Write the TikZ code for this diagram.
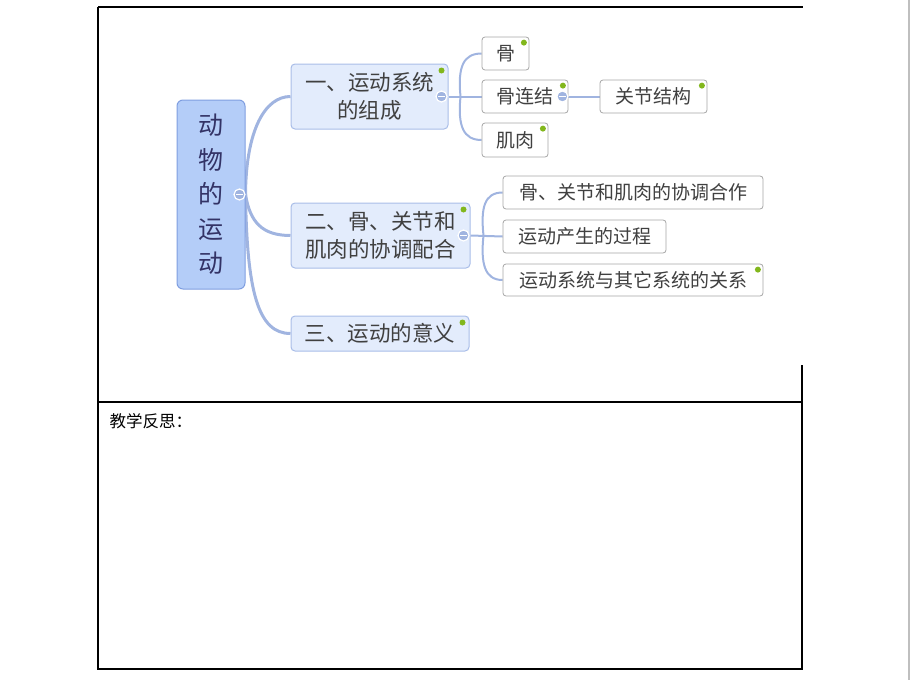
\documentclass[tikz,border=0pt]{standalone}
\usepackage{fontspec}
\setmainfont{Noto Sans CJK SC}
\usetikzlibrary{backgrounds}

\definecolor{rootfill}{HTML}{B4CDF8}
\definecolor{rootline}{HTML}{7F9EE0}
\definecolor{topicfill}{HTML}{E3ECFC}
\definecolor{topicline}{HTML}{A9BDE8}
\definecolor{branch}{HTML}{A0B4E0}
\definecolor{leafgreen}{HTML}{82B71C}
\definecolor{inktext}{HTML}{404040}

\tikzset{
  rootbox/.style={draw=rootline, fill=rootfill, rounded corners=6pt, line width=1pt,
    minimum width=68pt, minimum height=189pt, inner sep=0pt, align=center,
    text=inktext!80!blue, font=\fontsize{25}{34.5}\selectfont},
  topicbox/.style={draw=topicline, fill=topicfill, rounded corners=4pt, line width=1pt,
    inner sep=0pt, align=center, text=inktext, font=\fontsize{21.5}{28}\selectfont},
  leafbox/.style={draw=black!35, fill=white, rounded corners=3pt, line width=0.8pt,
    minimum height=33pt, inner sep=0pt, align=center, text=inktext,
    font=\fontsize{19}{24}\selectfont},
  mainbranch/.style={draw=branch, line width=3pt},
  subbranch/.style={draw=branch, line width=2pt},
  greendot/.style={circle, fill=leafgreen, inner sep=0pt, minimum size=6pt},
  fold/.style={circle, fill=branch, draw=white, line width=1.2pt, inner sep=0pt,
    minimum size=11pt,
    path picture={\draw[white, line width=1.6pt]
      ([xshift=-3.5pt]path picture bounding box.center) --
      ([xshift=3.5pt]path picture bounding box.center);}}
}

\begin{document}
\begin{tikzpicture}[x=1pt,y=-1pt]
\useasboundingbox (0,0) rectangle (910,680);

% Page frame
\draw[line width=1.3pt] (98,7) -- (803,7);
\draw[line width=1.3pt] (98,7) -- (98,669) -- (803,669);
\draw[line width=1.3pt] (98,402) -- (803,402);
\draw[line width=1.3pt] (802,365) -- (802,669);
\draw[black!25, line width=1.5pt] (909,0) -- (909,680);

\node[anchor=west, font=\fontsize{16.5}{20}\selectfont] (fansi) at (106,421) {教学反思：};

% Central topic and main topics
\node[rootbox] (root) at (211,194.5) {动\\物\\的\\运\\动};
\node[topicbox, minimum width=157pt, minimum height=65pt] (t1) at (369.5,96.5) {一、运动系统\\的组成};
\node[topicbox, minimum width=179pt, minimum height=65pt] (t2) at (380.5,235.5) {二、骨、关节和\\肌肉的协调配合};
\node[topicbox, minimum width=178pt, minimum height=35pt] (t3) at (380,333.5) {三、运动的意义};

% Subtopics
\node[leafbox, minimum width=47pt] (gu) at (505.5,53.5) {骨};
\node[leafbox, minimum width=86pt] (gulian) at (525,96.5) {骨连结};
\node[leafbox, minimum width=66pt, minimum height=34pt] (jirou) at (515,140) {肌肉};
\node[leafbox, minimum width=107pt] (guanjie) at (653.5,96.5) {关节结构};
\node[leafbox, minimum width=260pt] (c1) at (633,192.5) {骨、关节和肌肉的协调合作};
\node[leafbox, minimum width=163pt] (c2) at (584.5,236.5) {运动产生的过程};
\node[leafbox, minimum width=260pt, minimum height=32pt] (c3) at (633,280) {运动系统与其它系统的关系};

% Branches
\begin{scope}[on background layer]
\draw[mainbranch] (root.east) .. controls (246,130) and (265,96.5) .. (t1.west);
\draw[mainbranch] (root.east) .. controls (250,222) and (262,235.5) .. (t2.west);
\draw[mainbranch] (root.east) .. controls (247,292) and (258,333.5) .. (t3.west);

\draw[subbranch] (t1.east) -- (gulian.west);
\draw[subbranch] (t1.east) ++(12,0) .. controls +(-3,-30) and +(-18,0) .. (gu.west);
\draw[subbranch] (t1.east) ++(12,0) .. controls +(-3,30) and +(-18,0) .. (jirou.west);
\draw[subbranch] (gulian.east) -- (guanjie.west);

\draw[subbranch] (t2.east) -- (c2.west);
\draw[subbranch] (t2.east) ++(13,0) .. controls +(-3,-28) and +(-18,0) .. (c1.west);
\draw[subbranch] (t2.east) ++(13,0) .. controls +(-3,28) and +(-18,0) .. (c3.west);
\end{scope}

% Fold signs
\node[fold] (rootfold) at ([xshift=-6pt]root.east) {};
\node[fold] (t1fold) at ([xshift=-7pt]t1.east) {};
\node[fold] (t2fold) at ([xshift=-7pt]t2.east) {};
\node[fold] (gulianfold) at ([xshift=-6pt]gulian.east) {};

% Markers
\foreach \n in {t1,t2,t3}
  \node[greendot] at ([shift={(-7,7)}]\n.north east) {};
\foreach \n in {gu,gulian,jirou,guanjie,c3}
  \node[greendot] at ([shift={(-5.5,6)}]\n.north east) {};

\end{tikzpicture}
\end{document}
